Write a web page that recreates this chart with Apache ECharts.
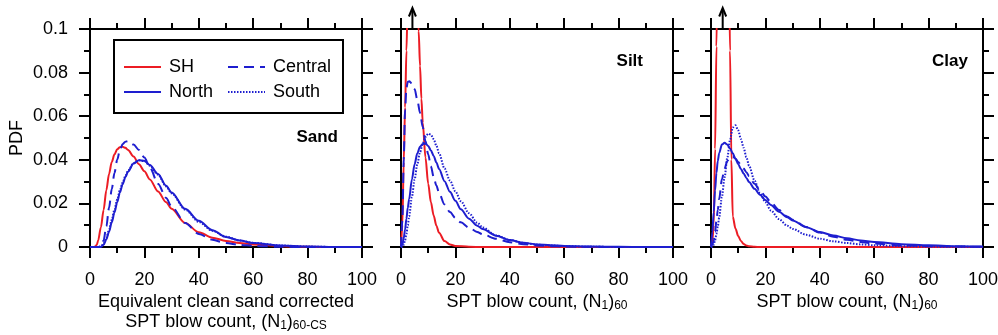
<!DOCTYPE html>
<html>
<head>
<meta charset="utf-8">
<script src="https://cdn.jsdelivr.net/npm/echarts@6/dist/echarts.min.js"></script>
<style>
  html, body { margin: 0; padding: 0; background: #fff; }
  #chart { width: 998px; height: 335px; }
</style>
</head>
<body>
<div id="chart"></div>
<script>
(function () {
  'use strict';

  // shared x grid for the smooth curves
  const gridX = [0, 0.5, 1, 1.5, 2, 2.5, 3, 4, 5, 6, 7, 8, 9, 10, 11, 12, 13, 14, 16, 18, 20, 22, 25, 28, 30, 35, 40, 45, 50, 55, 60, 70, 80, 90, 100];
  // finer x grid for the narrow SH peaks (silt, clay)
  const shX = [0, 0.5, 1, 1.5, 2, 2.5, 3, 4, 5, 6, 6.5, 7, 7.5, 8, 9, 10, 11, 12, 13, 14, 16, 18, 20, 25, 30, 100];

  // Sand
  const sandSH = [0, 0, 0, 0, 0.0003, 0.001, 0.003, 0.009, 0.017, 0.026, 0.0335, 0.039, 0.0425, 0.0448, 0.0458, 0.046, 0.0455, 0.0445, 0.0415, 0.038, 0.0347, 0.031, 0.0255, 0.0205, 0.0175, 0.011, 0.0068, 0.0043, 0.0028, 0.0018, 0.0011, 0.0004, 0.0001, 0, 0];
  const sandCentral = [0, 0, 0, 0, 0, 0, 0, 0.0004, 0.003, 0.0095, 0.018, 0.0265, 0.034, 0.04, 0.0445, 0.0472, 0.0483, 0.0486, 0.047, 0.0445, 0.041, 0.0365, 0.029, 0.0225, 0.0185, 0.011, 0.006, 0.0033, 0.0018, 0.001, 0.0005, 0.0001, 0, 0, 0];
  const sandNorth = [0, 0, 0, 0, 0, 0, 0, 0, 0.001, 0.0035, 0.007, 0.0113, 0.0158, 0.0205, 0.025, 0.0288, 0.032, 0.0346, 0.0383, 0.0398, 0.0396, 0.0376, 0.0335, 0.0281, 0.025, 0.0175, 0.012, 0.0077, 0.0046, 0.003, 0.0018, 0.0007, 0.0002, 0, 0];
  const sandSouth = [0, 0, 0, 0, 0, 0, 0, 0.0003, 0.0015, 0.0042, 0.008, 0.0125, 0.0172, 0.0218, 0.026, 0.0296, 0.0325, 0.035, 0.0385, 0.0398, 0.0394, 0.0373, 0.0332, 0.0278, 0.0246, 0.0172, 0.0115, 0.0074, 0.0047, 0.003, 0.0019, 0.0007, 0.0002, 0, 0];

  // Silt
  const siltSH = [0, 0.01, 0.039, 0.064, 0.09, 0.115, 0.135, 0.155, 0.14, 0.11, 0.099, 0.083, 0.068, 0.057, 0.041, 0.029, 0.0205, 0.0145, 0.0098, 0.0065, 0.0027, 0.0011, 0.0005, 0.0001, 0, 0];
  const siltCentral = [0, 0.012, 0.04, 0.063, 0.073, 0.0758, 0.076, 0.075, 0.0725, 0.0675, 0.0615, 0.055, 0.0485, 0.0425, 0.037, 0.0322, 0.0282, 0.0248, 0.0195, 0.016, 0.0133, 0.0113, 0.0089, 0.0069, 0.0058, 0.0038, 0.0022, 0.0013, 0.0007, 0.0004, 0.0002, 0.0001, 0, 0, 0];
  const siltNorth = [0, 0.001, 0.004, 0.008, 0.013, 0.018, 0.022, 0.031, 0.038, 0.043, 0.046, 0.0473, 0.0475, 0.0463, 0.0443, 0.0418, 0.0388, 0.0358, 0.0302, 0.0253, 0.0212, 0.0173, 0.013, 0.0098, 0.0082, 0.0052, 0.0032, 0.0019, 0.0012, 0.0008, 0.0005, 0.0002, 0.0001, 0, 0];
  const siltSouth = [0, 0, 0.001, 0.003, 0.006, 0.01, 0.014, 0.023, 0.031, 0.038, 0.0435, 0.0475, 0.0505, 0.052, 0.0515, 0.0495, 0.0465, 0.043, 0.036, 0.0305, 0.0255, 0.021, 0.0155, 0.0112, 0.009, 0.0053, 0.0032, 0.0019, 0.0011, 0.0007, 0.0004, 0.0001, 0, 0, 0];

  // Clay
  const claySH = [0, 0.003, 0.01, 0.045, 0.092, 0.14, 0.18, 0.22, 0.22, 0.18, 0.14, 0.09, 0.04, 0.014, 0.0085, 0.005, 0.0028, 0.0014, 0.0007, 0.0003, 0.0001, 0, 0, 0, 0, 0];
  const clayCentral = [0, 0.001, 0.003, 0.007, 0.012, 0.017, 0.022, 0.031, 0.036, 0.0395, 0.0413, 0.0415, 0.0405, 0.039, 0.0375, 0.036, 0.0343, 0.0325, 0.029, 0.026, 0.0232, 0.0205, 0.017, 0.014, 0.0125, 0.0092, 0.0066, 0.0047, 0.0033, 0.0023, 0.0016, 0.0008, 0.0004, 0.0002, 0.0001];
  const clayNorth = [0, 0.007, 0.016, 0.026, 0.034, 0.0395, 0.043, 0.047, 0.0478, 0.047, 0.0452, 0.043, 0.0405, 0.038, 0.0358, 0.0337, 0.0317, 0.0298, 0.0267, 0.024, 0.0216, 0.0193, 0.0162, 0.0137, 0.0122, 0.0091, 0.0069, 0.0053, 0.004, 0.003, 0.0023, 0.0013, 0.0008, 0.0004, 0.0002];
  const claySouth = [0, 0, 0.001, 0.003, 0.006, 0.0095, 0.0135, 0.023, 0.032, 0.041, 0.049, 0.0548, 0.0558, 0.0535, 0.0495, 0.0455, 0.0412, 0.0372, 0.0305, 0.0248, 0.0205, 0.0168, 0.0128, 0.0098, 0.0083, 0.0056, 0.0038, 0.0026, 0.0018, 0.0012, 0.0008, 0.0004, 0.0002, 0.0001, 0];

  const panelNames = ['Sand', 'Silt', 'Clay'];
  const xTicks = { min: 0, max: 100, interval: 20 };
  const yTicks = { min: 0, max: 0.1, interval: 0.02 };
  const xNames = [
    'Equivalent clean sand corrected\nSPT blow count, (N{s|1}){s|60-CS}',
    'SPT blow count, (N{s|1}){s|60}',
    'SPT blow count, (N{s|1}){s|60}'
  ];
  const yName = 'PDF';
  // x position of the clipped SH peak (arrow), per panel
  const arrowAt = [null, 4.2, 4.3];

  const FONT = '"Liberation Sans", Arial, sans-serif';
  const RED = '#ec1c24';
  const BLUE = '#1e1ecf';

  const panels = [
    { SH: [gridX, sandSH], North: [gridX, sandNorth], Central: [gridX, sandCentral], South: [gridX, sandSouth] },
    { SH: [shX, siltSH], North: [gridX, siltNorth], Central: [gridX, siltCentral], South: [gridX, siltSouth] },
    { SH: [shX, claySH], North: [gridX, clayNorth], Central: [gridX, clayCentral], South: [gridX, claySouth] }
  ];
  const styles = {
    SH: { color: RED, type: 'solid' },
    Central: { color: BLUE, type: [10, 6] },
    South: { color: BLUE, type: [1.5, 1.5] },
    North: { color: BLUE, type: 'solid' }
  };
  const drawOrder = ['SH', 'Central', 'South', 'North'];

  const gridLefts = [90, 401, 711];
  const lineBlack = { color: '#000', width: 2 };

  const grids = [], xAxes = [], yAxes = [], series = [];
  panels.forEach(function (p, i) {
    grids.push({ left: gridLefts[i], top: 29, width: 272, height: 218, outerBoundsMode: 'none' });
    const common = {
      type: 'value', gridIndex: i,
      splitLine: { show: false },
      axisLine: { onZero: false, lineStyle: lineBlack },
      axisTick: { show: true, length: 11, lineStyle: lineBlack },
      minorTick: { show: true, splitNumber: 2, length: 6, lineStyle: lineBlack },
      minorSplitLine: { show: false }
    };
    xAxes.push(Object.assign({}, common, xTicks, {
      position: 'bottom',
      name: xNames[i], nameLocation: 'middle', nameGap: 45, nameMoveOverlap: false,
      nameTextStyle: {
        fontSize: 18, color: '#000', fontFamily: FONT, lineHeight: 20,
        rich: { s: { fontSize: 12, lineHeight: 10, verticalAlign: 'bottom', color: '#000', fontFamily: FONT } }
      },
      axisLabel: { fontSize: 18, color: '#000', fontFamily: FONT, margin: 24 }
    }));
    xAxes.push(Object.assign({}, common, xTicks, {
      position: 'top', axisLabel: { show: false }
    }));
    yAxes.push(Object.assign({}, common, yTicks, {
      position: 'left',
      name: i === 0 ? yName : '', nameLocation: 'middle', nameGap: 64, nameMoveOverlap: false,
      nameTextStyle: { fontSize: 18, color: '#000', fontFamily: FONT },
      axisLabel: { show: i === 0, fontSize: 18, color: '#000', fontFamily: FONT, margin: 22 }
    }));
    yAxes.push(Object.assign({}, common, yTicks, {
      position: 'right', axisLabel: { show: false }
    }));

    drawOrder.forEach(function (name) {
      const xs = p[name][0], ys = p[name][1];
      series.push({
        name: name, type: 'line',
        xAxisIndex: 2 * i, yAxisIndex: 2 * i,
        data: xs.map(function (x, k) { return [x, ys[k]]; }),
        showSymbol: false, symbol: 'none',
        smooth: 0.3, smoothMonotone: 'x', clip: true,
        color: styles[name].color,
        lineStyle: { color: styles[name].color, width: 2, type: styles[name].type },
        silent: true
      });
    });
  });

  const legendBase = {
    orient: 'vertical', top: 58, padding: 0,
    itemWidth: 37, itemHeight: 12, itemGap: 7,
    selectedMode: false,
    itemStyle: { opacity: 0 },
    textStyle: { fontSize: 18, color: '#000', fontFamily: FONT, padding: [0, 0, 0, 3] }
  };

  const labelStyle = function (text) {
    return { text: text, align: 'right', verticalAlign: 'middle', fill: '#000',
      fontSize: 17, fontWeight: 'bold', fontFamily: FONT, lineWidth: 0, stroke: 'transparent' };
  };

  const chart = echarts.init(document.getElementById('chart'), null, { renderer: 'canvas' });
  chart.setOption({
    animation: false,
    backgroundColor: '#fff',
    grid: grids,
    xAxis: xAxes,
    yAxis: yAxes,
    series: series,
    legend: [
      Object.assign({}, legendBase, { left: 123, data: ['SH', 'North'] }),
      Object.assign({}, legendBase, { left: 227, data: ['Central', 'South'] })
    ]
  });

  const elements = [
    { id: 'legendBox', type: 'rect', shape: { x: 114, y: 40, width: 229, height: 73 },
      style: { fill: 'none', stroke: '#000', lineWidth: 2 }, z: 10 },
    { id: 'lbl0', type: 'text', x: 338, y: 137, style: labelStyle(panelNames[0]) },
    { id: 'lbl1', type: 'text', x: 643, y: 61, style: labelStyle(panelNames[1]) },
    { id: 'lbl2', type: 'text', x: 968, y: 61, style: labelStyle(panelNames[2]) }
  ];

  // arrows marking SH peaks that run off the top of the axis
  arrowAt.forEach(function (ax, i) {
    if (ax == null) return;
    const pt = chart.convertToPixel({ seriesIndex: 4 * i }, [ax, yTicks.max]);
    if (!pt) return;
    const x = pt[0], y = pt[1];
    elements.push({ id: 'arrowShaft' + i, type: 'line', z: 20,
      shape: { x1: x, y1: y, x2: x, y2: y - 20 }, style: { stroke: '#000', lineWidth: 2 } });
    elements.push({ id: 'arrowHead' + i, type: 'polyline', z: 20,
      shape: { points: [[x - 3.5, y - 12.5], [x, y - 21], [x + 3.5, y - 12.5]] },
      style: { stroke: '#000', lineWidth: 2, fill: null } });
  });
  chart.setOption({ graphic: { elements: elements } });
})();
</script>
</body>
</html>
